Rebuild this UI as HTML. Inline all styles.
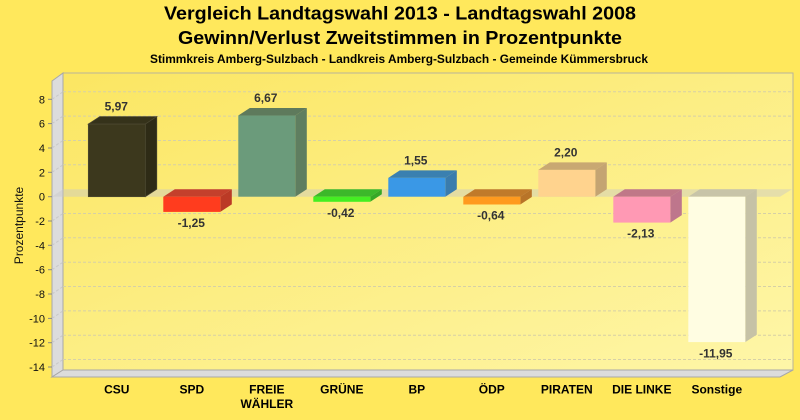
<!DOCTYPE html>
<html>
<head>
<meta charset="utf-8">
<style>
html,body{margin:0;padding:0;background:#FFE85C;}
svg{display:block;}
text{font-family:"Liberation Sans",Arial,sans-serif;}
</style>
</head>
<body>
<svg width="800" height="420" viewBox="0 0 800 420" xmlns="http://www.w3.org/2000/svg">
<defs>
<linearGradient id="wall" x1="0" y1="0" x2="1" y2="1">
<stop offset="0" stop-color="#FBE662"/>
<stop offset="1" stop-color="#FEF6A8"/>
</linearGradient>
</defs>
<rect x="0" y="0" width="800" height="420" fill="#FFE85C"/>

<!-- Titles -->
<text x="400" y="19.5" text-anchor="middle" font-size="18" font-weight="bold" fill="#000" textLength="472" lengthAdjust="spacingAndGlyphs">Vergleich Landtagswahl 2013 - Landtagswahl 2008</text>
<text x="400" y="44" text-anchor="middle" font-size="18" font-weight="bold" fill="#000" textLength="444" lengthAdjust="spacingAndGlyphs">Gewinn/Verlust Zweitstimmen in Prozentpunkte</text>
<text x="399" y="63" text-anchor="middle" font-size="12" font-weight="bold" fill="#000" textLength="498" lengthAdjust="spacingAndGlyphs">Stimmkreis Amberg-Sulzbach - Landkreis Amberg-Sulzbach - Gemeinde Kümmersbruck</text>

<!-- Back wall -->
<rect x="63" y="73" width="730" height="297" fill="url(#wall)" stroke="#B8B49A" stroke-width="1"/>

<!-- Left wall -->
<polygon points="52,81 63,73 63,370 52,377" fill="#DCDCDC" stroke="#A8A8A8" stroke-width="1"/>
<!-- Floor -->
<polygon points="52,377 780,377 793,370 63,370" fill="#DCDCDC" stroke="#A8A8A8" stroke-width="1"/>

<!-- Grid lines (back wall) -->
<g stroke="#D6D0A6" stroke-width="1" stroke-dasharray="3,2" fill="none">
<line x1="63" y1="91.8" x2="793" y2="91.8"/>
<line x1="63" y1="116.1" x2="793" y2="116.1"/>
<line x1="63" y1="140.5" x2="793" y2="140.5"/>
<line x1="63" y1="164.8" x2="793" y2="164.8"/>
<line x1="63" y1="213.5" x2="793" y2="213.5"/>
<line x1="63" y1="237.8" x2="793" y2="237.8"/>
<line x1="63" y1="262.2" x2="793" y2="262.2"/>
<line x1="63" y1="286.5" x2="793" y2="286.5"/>
<line x1="63" y1="310.9" x2="793" y2="310.9"/>
<line x1="63" y1="335.2" x2="793" y2="335.2"/>
<line x1="63" y1="359.5" x2="793" y2="359.5"/>
</g>
<!-- Grid lines (left wall diagonals) -->
<g stroke="#C8C8C8" stroke-width="1" stroke-dasharray="3,2" fill="none">
<line x1="52" y1="99.3" x2="63" y2="91.8"/>
<line x1="52" y1="123.6" x2="63" y2="116.1"/>
<line x1="52" y1="148" x2="63" y2="140.5"/>
<line x1="52" y1="172.3" x2="63" y2="164.8"/>
<line x1="52" y1="221" x2="63" y2="213.5"/>
<line x1="52" y1="245.3" x2="63" y2="237.8"/>
<line x1="52" y1="269.7" x2="63" y2="262.2"/>
<line x1="52" y1="294" x2="63" y2="286.5"/>
<line x1="52" y1="318.4" x2="63" y2="310.9"/>
<line x1="52" y1="342.7" x2="63" y2="335.2"/>
<line x1="52" y1="367" x2="63" y2="359.5"/>
</g>

<!-- Zero plane -->
<polygon points="52,196.7 780,196.7 792,189.2 63,189.2" fill="#C8C8C8" fill-opacity="0.45"/>

<!-- Y ticks -->
<g stroke="#888" stroke-width="1">
<line x1="48" y1="99.3" x2="52" y2="99.3"/>
<line x1="48" y1="123.6" x2="52" y2="123.6"/>
<line x1="48" y1="148" x2="52" y2="148"/>
<line x1="48" y1="172.3" x2="52" y2="172.3"/>
<line x1="48" y1="196.7" x2="52" y2="196.7"/>
<line x1="48" y1="221" x2="52" y2="221"/>
<line x1="48" y1="245.3" x2="52" y2="245.3"/>
<line x1="48" y1="269.7" x2="52" y2="269.7"/>
<line x1="48" y1="294" x2="52" y2="294"/>
<line x1="48" y1="318.4" x2="52" y2="318.4"/>
<line x1="48" y1="342.7" x2="52" y2="342.7"/>
<line x1="48" y1="367" x2="52" y2="367"/>
</g>
<g font-size="11" fill="#111" text-anchor="end">
<text x="45" y="103.3">8</text>
<text x="45" y="127.6">6</text>
<text x="45" y="152">4</text>
<text x="45" y="176.3">2</text>
<text x="45" y="200.7">0</text>
<text x="45" y="225">-2</text>
<text x="45" y="249.3">-4</text>
<text x="45" y="273.7">-6</text>
<text x="45" y="298">-8</text>
<text x="45" y="322.4">-10</text>
<text x="45" y="346.7">-12</text>
<text x="45" y="371">-14</text>
</g>
<text transform="translate(23,225.5) rotate(-90)" text-anchor="middle" font-size="12" fill="#111">Prozentpunkte</text>

<!-- Bars -->
<!-- CSU 5.97 -->
<polygon points="88.3,124.05 145.3,124.05 156.8,116.55 99.8,116.55" fill="#35321A" stroke="#4A4630" stroke-width="0.7"/>
<polygon points="145.3,124.05 156.8,116.55 156.8,189.2 145.3,196.7" fill="#2E2B16" stroke="#4A4630" stroke-width="0.7"/>
<rect x="88.3" y="124.05" width="57" height="72.65" fill="#3C381D" stroke="#4E4A32" stroke-width="0.7"/>
<!-- SPD -1.25 -->
<polygon points="163.3,196.7 220.3,196.7 231.8,189.2 174.8,189.2" fill="#C4402C"/>
<polygon points="220.3,196.7 231.8,189.2 231.8,204.4 220.3,211.9" fill="#BB3A26"/>
<rect x="163.3" y="196.7" width="57" height="15.2" fill="#FF3C1E"/>
<!-- FREIE WÄHLER 6.67 -->
<polygon points="238.3,115.53 295.3,115.53 306.8,108.03 249.8,108.03" fill="#5E7A5C"/>
<polygon points="295.3,115.53 306.8,108.03 306.8,189.2 295.3,196.7" fill="#5F7E60"/>
<rect x="238.3" y="115.53" width="57" height="81.17" fill="#6B9B7B"/>
<!-- GRÜNE -0.42 -->
<polygon points="313.3,196.7 370.3,196.7 381.8,189.2 324.8,189.2" fill="#3CB82A"/>
<polygon points="370.3,196.7 381.8,189.2 381.8,194.3 370.3,201.8" fill="#36A826"/>
<rect x="313.3" y="196.7" width="57" height="5.1" fill="#44EE22"/>
<!-- BP 1.55 -->
<polygon points="388.3,177.84 445.3,177.84 456.8,170.34 399.8,170.34" fill="#3A80B0"/>
<polygon points="445.3,177.84 456.8,170.34 456.8,189.2 445.3,196.7" fill="#3A7CAD"/>
<rect x="388.3" y="177.84" width="57" height="18.86" fill="#3A98E6"/>
<!-- ÖDP -0.64 -->
<polygon points="463.3,196.7 520.3,196.7 531.8,189.2 474.8,189.2" fill="#C07A2A"/>
<polygon points="520.3,196.7 531.8,189.2 531.8,197 520.3,204.5" fill="#B87428"/>
<rect x="463.3" y="196.7" width="57" height="7.8" fill="#FF9A1E"/>
<!-- PIRATEN 2.20 -->
<polygon points="538.3,169.93 595.3,169.93 606.8,162.43 549.8,162.43" fill="#C8A872"/>
<polygon points="595.3,169.93 606.8,162.43 606.8,189.2 595.3,196.7" fill="#C4A472"/>
<rect x="538.3" y="169.93" width="57" height="26.77" fill="#FFD38E"/>
<!-- DIE LINKE -2.13 -->
<polygon points="613.3,196.7 670.3,196.7 681.8,189.2 624.8,189.2" fill="#C07888"/>
<polygon points="670.3,196.7 681.8,189.2 681.8,215.1 670.3,222.6" fill="#BE768C"/>
<rect x="613.3" y="196.7" width="57" height="25.9" fill="#FF99B4"/>
<!-- Sonstige -11.95 -->
<polygon points="688.3,196.7 745.3,196.7 756.8,189.2 699.8,189.2" fill="#C8C4A8"/>
<polygon points="745.3,196.7 756.8,189.2 756.8,334.6 745.3,342.1" fill="#C6C2A6"/>
<rect x="688.3" y="196.7" width="57" height="145.4" fill="#FFFDE2"/>

<!-- Value labels -->
<g font-size="12" font-weight="bold" fill="#333" text-anchor="middle">
<text x="116.3" y="110.6">5,97</text>
<text x="191.3" y="227">-1,25</text>
<text x="265.8" y="102.1">6,67</text>
<text x="340.8" y="216.8">-0,42</text>
<text x="415.8" y="164.4">1,55</text>
<text x="490.8" y="219.5">-0,64</text>
<text x="565.8" y="156.5">2,20</text>
<text x="640.8" y="237.6">-2,13</text>
<text x="715.8" y="357.5">-11,95</text>
</g>

<!-- Category labels -->
<g font-size="12" font-weight="bold" fill="#000" text-anchor="middle">
<text x="116.8" y="393.3">CSU</text>
<text x="191.8" y="393.3">SPD</text>
<text x="266.8" y="393.3">FREIE</text>
<text x="266.8" y="408">WÄHLER</text>
<text x="341.8" y="393.3">GRÜNE</text>
<text x="416.8" y="393.3">BP</text>
<text x="491.8" y="393.3">ÖDP</text>
<text x="566.8" y="393.3">PIRATEN</text>
<text x="641.8" y="393.3">DIE LINKE</text>
<text x="716.8" y="393.3">Sonstige</text>
</g>
</svg>
</body>
</html>
